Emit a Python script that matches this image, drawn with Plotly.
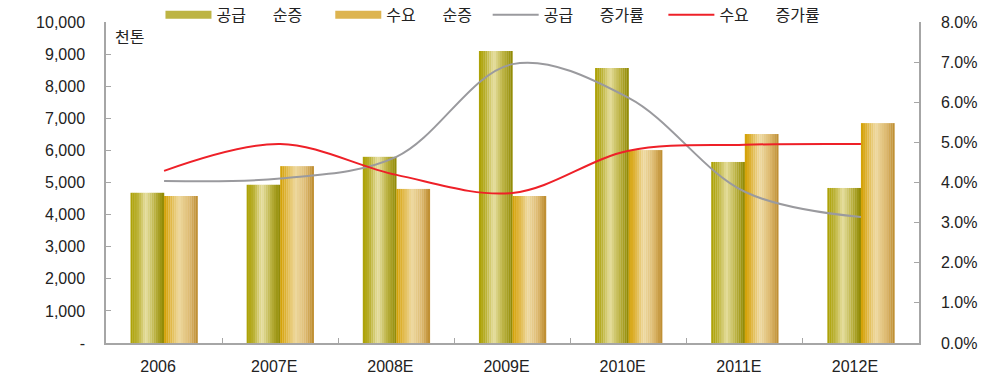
import plotly.graph_objects as go

categories = ["2006", "2007E", "2008E", "2009E", "2010E", "2011E", "2012E"]
supply_net = [4680, 4930, 5800, 9100, 8570, 5640, 4830]
demand_net = [4580, 5510, 4800, 4580, 6010, 6510, 6850]
supply_growth = [0.0404, 0.0410, 0.0464, 0.0695, 0.0611, 0.0377, 0.0314]
demand_growth = [0.0429, 0.0496, 0.0419, 0.0374, 0.0479, 0.0494, 0.0496]
left_tickvals = [0, 1000, 2000, 3000, 4000, 5000, 6000, 7000, 8000, 9000, 10000]
left_ticktext = ["-", "1,000", "2,000", "3,000", "4,000", "5,000", "6,000", "7,000", "8,000", "9,000", "10,000"]

FONT = "Arial, 'Liberation Sans', 'Noto Sans CJK KR', sans-serif"
KFONT = "'Noto Sans CJK KR', 'Liberation Sans', sans-serif"
NB = "\u00a0"
GAP = "\u3000" + NB * 3

def hex2rgb(h):
    h = h.lstrip("#")
    return tuple(int(h[i:i + 2], 16) for i in (0, 2, 4))

def grad(stops, t):
    for (p0, c0), (p1, c1) in zip(stops, stops[1:]):
        if p0 <= t <= p1:
            f = (t - p0) / (p1 - p0) if p1 > p0 else 0
            a, b = hex2rgb(c0), hex2rgb(c1)
            return "rgb(%d,%d,%d)" % tuple(round(a[k] + (b[k] - a[k]) * f) for k in range(3))
    return stops[-1][1]

supply_stops = [(0, "#ABA000"), (0.2, "#B9B030"), (0.45, "#E6DE9E"), (0.75, "#B7AE3A"), (1, "#8E8700")]
demand_stops = [(0, "#D2A000"), (0.15, "#DDB030"), (0.45, "#EED9A0"), (0.75, "#DDBA70"), (1, "#BC8A2C")]

supply_name = "공급" + GAP + "순증" + "\u3000" + NB * 2
demand_name = "수요" + GAP + "순증" + NB * 3
supply_g_name = "공급" + GAP + "증가률" + NB * 4
demand_g_name = "수요" + GAP + "증가률"

fig = go.Figure()
BW = 0.289
N = 16
sw = BW / N
for name, vals, stops, base in [
    (supply_name, supply_net, supply_stops, -BW),
    (demand_name, demand_net, demand_stops, 0.0),
]:
    for i in range(N):
        t = (i + 0.5) / N
        fig.add_trace(go.Bar(
            x=categories, y=vals, name=name,
            width=sw * 1.08, offset=base + i * sw,
            marker=dict(color=grad(stops, t), line=dict(width=0)),
            showlegend=False, legendgroup=name,
            yaxis="y", hoverinfo="skip",
        ))

# legend proxies (wide swatches like the reference)
for name, col in [(supply_name, "#BDB444"), (demand_name, "#DDB450")]:
    fig.add_trace(go.Scatter(
        x=categories, y=[None] * len(categories), name=name, legendgroup=name,
        mode="lines", line=dict(color=col, width=8), yaxis="y", hoverinfo="skip",
    ))

fig.add_trace(go.Scatter(
    x=categories, y=supply_growth, name=supply_g_name, mode="lines",
    line=dict(color="#9A9A9E", width=2, shape="spline", smoothing=1.0), yaxis="y2",
))
fig.add_trace(go.Scatter(
    x=categories, y=demand_growth, name=demand_g_name, mode="lines",
    line=dict(color="#EE2028", width=2, shape="spline", smoothing=1.0), yaxis="y2",
))

fig.update_layout(
    width=986, height=374,
    margin=dict(l=106, r=67, t=22, b=31, autoexpand=False),
    paper_bgcolor="white", plot_bgcolor="white",
    barmode="overlay",
    font=dict(family=FONT, size=16, color="#222222"),
    xaxis=dict(
        type="category", showgrid=False, showline=True, linecolor="#A6A6A6", linewidth=1.5,
        ticks="inside", ticklen=5, tickcolor="#A6A6A6", tickwidth=1.2, tickson="boundaries",
        ticklabelstandoff=8, ticklabelshift=-6,
        tickfont=dict(family=FONT, size=16, color="#222222"),
        range=[-0.5, 6.5],
    ),
    yaxis=dict(
        range=[0, 10000], tickvals=left_tickvals, ticktext=left_ticktext,
        showgrid=False, zeroline=False, showline=True, linecolor="#A6A6A6", linewidth=1.5,
        ticks="inside", ticklen=5, tickcolor="#A6A6A6", tickwidth=1.2,
        ticklabelstandoff=16, tickfont=dict(family=FONT, size=16, color="#222222"),
    ),
    yaxis2=dict(
        range=[0, 0.08], dtick=0.01, tickformat=".1%", overlaying="y", side="right",
        showgrid=False, zeroline=False, showline=True, linecolor="#A6A6A6", linewidth=1.5,
        ticks="inside", ticklen=5, tickcolor="#A6A6A6", tickwidth=1.2,
        ticklabelstandoff=17, tickfont=dict(family=FONT, size=16, color="#222222"),
    ),
    legend=dict(
        orientation="h", x=0.067, y=1.022, xanchor="left", yanchor="middle",
        font=dict(family=KFONT, size=16, color="#222222"), bgcolor="rgba(0,0,0,0)",
        itemwidth=46, tracegroupgap=0,
    ),
    annotations=[dict(
        text="천톤", x=0, y=1, xref="paper", yref="paper", xanchor="left", yanchor="top",
        xshift=7, yshift=0, showarrow=False, font=dict(family=KFONT, size=16, color="#222222"),
    )],
)

fig.write_html("out.html", post_script="document.body.style.margin='0';",
               config={"displayModeBar": False})
